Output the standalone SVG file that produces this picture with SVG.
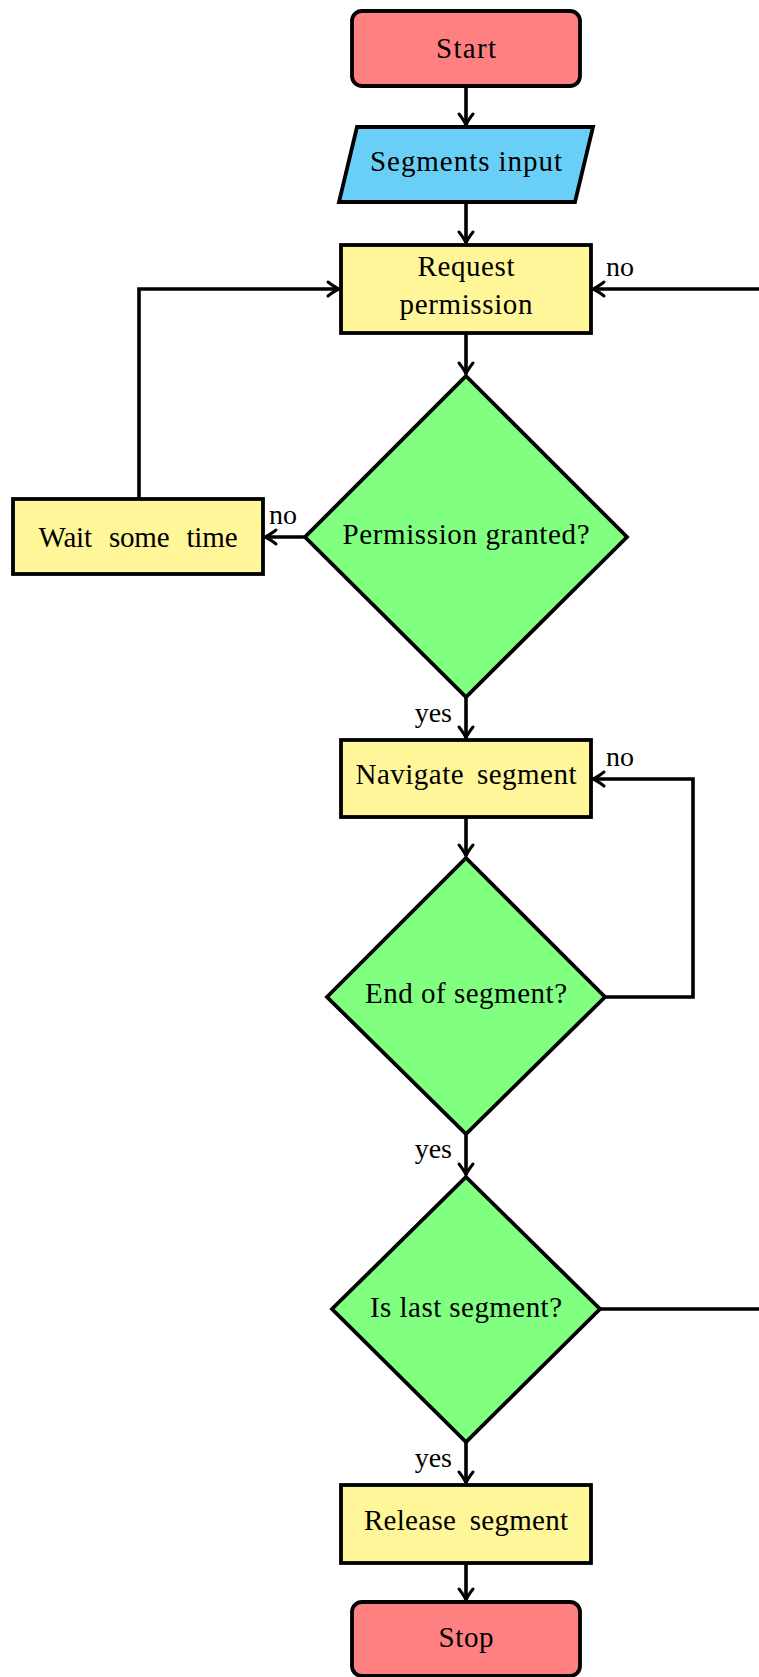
<svg xmlns="http://www.w3.org/2000/svg" width="759" height="1677" viewBox="0 0 759 1677">
<style>
.node{stroke:#000;stroke-width:3.8;stroke-linejoin:miter}
.term{fill:#FF8080}
.io{fill:#6ACFF6}
.proc{fill:#FFF599}
.dec{fill:#80FF80}
text{font-family:"Liberation Serif","Times New Roman",serif;font-size:29px;fill:#000}
.c{text-anchor:middle}
.conn path{fill:none;stroke:#000;stroke-width:3.6;marker-end:url(#arr)}
.lbl{font-size:28px}
</style>
<defs>
<marker id="arr" markerUnits="userSpaceOnUse" viewBox="-14 -9 16 18" refX="0" refY="0" markerWidth="16" markerHeight="18" orient="auto" overflow="visible">
<path d="M-11,-7 Q-4,-1.5 0,0 Q-4,1.5 -11,7" fill="none" stroke="#000" stroke-width="3" stroke-linecap="round" stroke-linejoin="round"/>
</marker>
</defs>
<rect width="759" height="1677" fill="#fff"/>
<g class="conn">
<path d="M466,86 V125"/>
<path d="M466,202 V243"/>
<path d="M466,333 V374"/>
<path d="M305,537 H265"/>
<path d="M139,499 V289 H339"/>
<path d="M466,697 V738"/>
<path d="M466,817 V856"/>
<path d="M605,997 H693 V779 H593"/>
<path d="M466,1134 V1175"/>
<path d="M600,1309 H780 V289 H593"/>
<path d="M466,1442 V1483"/>
<path d="M466,1563 V1600"/>
</g>
<g id="start"><rect class="node term" x="352" y="11" width="228" height="75" rx="10"/><text class="c" x="466" y="58" textLength="60">Start</text></g>
<g id="input"><polygon class="node io" points="357,127 593,127 575,202 339,202"/><text class="c" x="466" y="171" textLength="192">Segments input</text></g>
<g id="request"><rect class="node proc" x="341" y="245" width="250" height="88"/><text class="c" x="466" y="276" textLength="97">Request</text><text class="c" x="466" y="314" textLength="133">permission</text></g>
<g id="granted"><polygon class="node dec" points="466,376 627,537 466,697 305,537"/><text class="c" x="466" y="544" textLength="247">Permission granted?</text></g>
<g id="wait"><rect class="node proc" x="13" y="499" width="250" height="75"/><text class="c" x="138" y="547" word-spacing="10" textLength="199">Wait some time</text></g>
<g id="navigate"><rect class="node proc" x="341" y="740" width="250" height="77"/><text class="c" x="466" y="784" word-spacing="5" textLength="221">Navigate segment</text></g>
<g id="endseg"><polygon class="node dec" points="466,858 605,997 466,1134 327,997"/><text class="c" x="466" y="1003" textLength="202">End of segment?</text></g>
<g id="lastseg"><polygon class="node dec" points="466,1177 600,1309 466,1442 332,1309"/><text class="c" x="466" y="1317" textLength="192">Is last segment?</text></g>
<g id="release"><rect class="node proc" x="341" y="1485" width="250" height="78"/><text class="c" x="466" y="1530" word-spacing="6" textLength="204">Release segment</text></g>
<g id="stop"><rect class="node term" x="352" y="1602" width="228" height="74" rx="10"/><text class="c" x="466" y="1647" textLength="55">Stop</text></g>
<g id="labels">
<text class="lbl" x="606" y="276">no</text>
<text class="lbl" x="269" y="524">no</text>
<text class="lbl" x="452" y="722" text-anchor="end">yes</text>
<text class="lbl" x="606" y="766">no</text>
<text class="lbl" x="452" y="1158" text-anchor="end">yes</text>
<text class="lbl" x="452" y="1467" text-anchor="end">yes</text>
</g>
</svg>
